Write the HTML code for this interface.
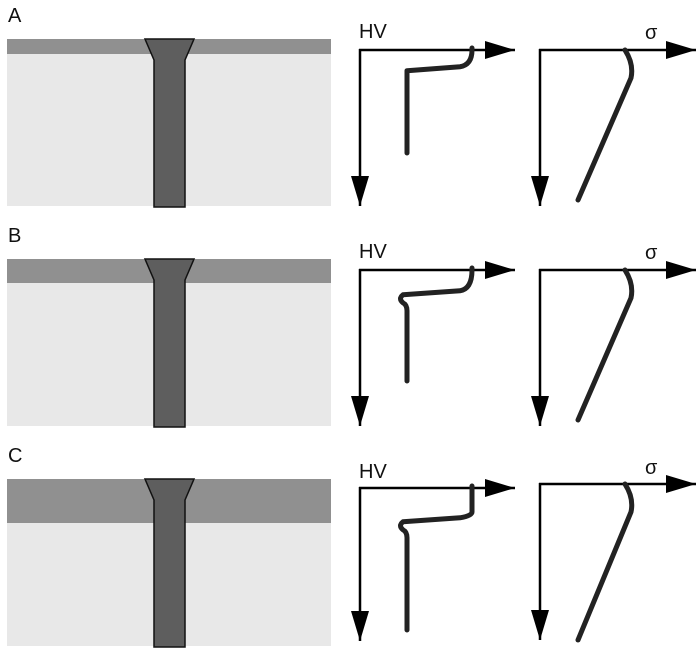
<!DOCTYPE html>
<html><head><meta charset="utf-8"><style>
html,body{margin:0;padding:0;background:#fff;width:699px;height:648px;overflow:hidden}
svg{display:block}
text{font-family:"Liberation Sans",sans-serif;fill:#111}
</style></head><body>
<svg id="fig" width="699" height="648" viewBox="0 0 699 648" xmlns="http://www.w3.org/2000/svg">
<defs><marker id="ah" markerWidth="32" markerHeight="18" refX="30" refY="9" orient="auto" markerUnits="userSpaceOnUse"><path d="M0,0 L30,9 L0,18 Z" fill="#000"/></marker></defs>
</svg>
<script>
// schematic data
const panelLabels = ['A','B','C'];
const coatingThickness = [15, 24, 44];      // relative coating depth
const hvSurfaceStep = [0, 0, 24];           // depth of surface hard plateau
const hvKink = [0, 1, 1];                   // presence of kink at interface
const svgNS='http://www.w3.org/2000/svg';
const svg=document.getElementById('fig');
function el(tag,attrs,parent){const e=document.createElementNS(svgNS,tag);for(const k in attrs)e.setAttribute(k,attrs[k]);(parent||svg).appendChild(e);return e;}
const panelY=i=>i*220;
panelLabels.forEach((lab,i)=>{
  const oy=panelY(i);
  const g=el('g',{});
  
  
  const t=el('text',{x:8,y:oy+22,'font-size':20},g);t.textContent=lab;
  
  
  const sub=el('rect',{x:7,y:oy+39,width:324,height:167,fill:'#e8e8e8'},g);
  
  
  const coat=el('rect',{x:7,y:oy+39,width:324,height:coatingThickness[i],fill:'#909090'},g);
  
  
  const f=el('path',{d:`M145,${oy+39} L194,${oy+39} L185,${oy+60} L185,${oy+207} L154,${oy+207} L154,${oy+60} Z`,fill:'#5e5e5e',stroke:'#111','stroke-width':1.5},g);
  
  
  // HV axes
  const ay=oy+(i==2?48:50);
  const ax1=el('line',{x1:359,y1:ay,x2:515,y2:ay,stroke:'#000','stroke-width':2.5,'marker-end':'url(#ah)'},g);
  
  
  const ax2=el('line',{x1:360,y1:ay-1,x2:360,y2:oy+(i==2?201:206),stroke:'#000','stroke-width':2.5,'marker-end':'url(#ah)'},g);
  
  
  const hv=el('text',{x:359,y:oy+38,'font-size':20},g);hv.textContent='HV';
  
  
  // HV curve
  const d=coatingThickness[i];
  const hy=ay+10+d*0.45+hvSurfaceStep[i]*0.0;
  const plateau=ay+hvSurfaceStep[i];
  let p=`M472,${ay-2} L472,${plateau} Q472,${hy-2} 460,${hy} L${407-hvKink[i]*4},${hy+4}`;
  if(hvKink[i]) p+=` Q${398},${hy+8} ${403},${hy+12} Q${407},${hy+14} ${407},${hy+20}`;
  else p+=` Q407,${hy+5} 407,${hy+12}`;
  p+=` L407,${oy+(i==0?153:(i==1?161:190))}`;
  const c=el('path',{d:p,fill:'none',stroke:'#222','stroke-width':5,'stroke-linecap':'round','stroke-linejoin':'round'},g);
  
  
  // sigma axes
  const sy=oy+(i==2?44:50);
  const sx1=el('line',{x1:539,y1:sy,x2:696,y2:sy,stroke:'#000','stroke-width':2.5,'marker-end':'url(#ah)'},g);
  
  
  const sx2=el('line',{x1:540,y1:sy-1,x2:540,y2:oy+(i==2?200:206),stroke:'#000','stroke-width':2.5,'marker-end':'url(#ah)'},g);
  
  
  const s=el('text',{x:645,y:oy+(i==2?34:39),'font-size':20},g);s.textContent='σ';
  
  
  const sc=el('path',{d:`M625,${sy} Q634,${sy+14} 631,${sy+28} L578,${oy+200}`,fill:'none',stroke:'#222','stroke-width':5,'stroke-linecap':'round'},g);
  
  
});
</script>
</body></html>
